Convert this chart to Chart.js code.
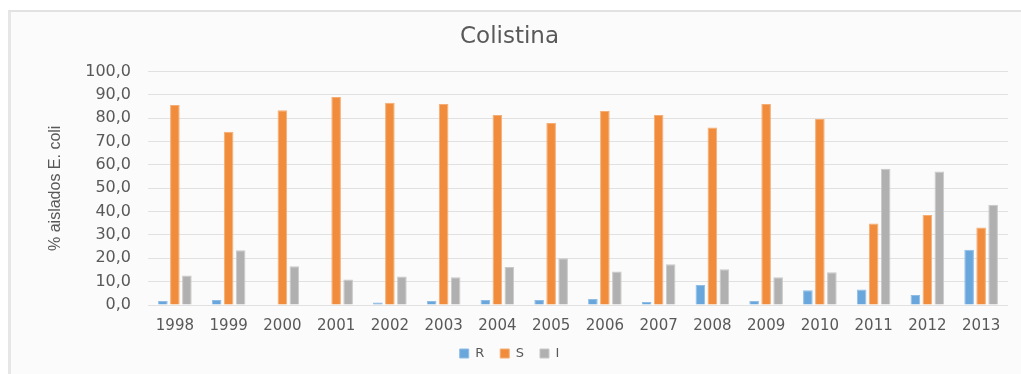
<!DOCTYPE html>
<html>
<head>
<meta charset="utf-8">
<title>Colistina</title>
<script src="https://cdn.jsdelivr.net/npm/chart.js@4.4.1/dist/chart.umd.min.js"></script>
<style>
  html, body {
    margin: 0;
    padding: 0;
    background: #ffffff;
  }
  .frame {
    position: absolute;
    left: 8px;
    top: 10px;
    width: 1010px;
    height: 362px;
    background: #fbfbfb;
    border-top: 2px solid #e2e2e2;
    border-left: 3px solid #e6e6e6;
  }
</style>
</head>
<body>
<div class="frame">
  <canvas id="chart"></canvas>
</div>
<script>
const years = ["1998", "1999", "2000", "2001", "2002", "2003", "2004", "2005",
  "2006", "2007", "2008", "2009", "2010", "2011", "2012", "2013"];

const valuesR = [1.7, 2.1, 0, 0, 1.1, 1.7, 2.1, 2.1, 2.6, 1.3, 8.6, 1.7, 6.3, 6.6, 4.3, 23.7];
const valuesS = [85.7, 74.2, 83.4, 89.1, 86.7, 86.1, 81.4, 78.0, 83.1, 81.4, 76.0, 86.1, 79.7, 34.9, 38.6, 33.2];
const valuesI = [12.6, 23.5, 16.6, 10.9, 12.2, 11.9, 16.3, 20.0, 14.3, 17.5, 15.3, 11.9, 14.0, 58.4, 57.2, 42.9];

const yTicks = [0, 10, 20, 30, 40, 50, 60, 70, 80, 90, 100];

const textColor = "#595959";
const gridColor = "#e1e1e1";

function series(label, data, color, edge) {
  return {
    label: label,
    data: data,
    backgroundColor: color,
    borderColor: edge,
    borderWidth: 1,
    categoryPercentage: 0.67,
    barPercentage: 0.8,
  };
}

const ctx = document.getElementById("chart").getContext("2d");

new Chart(ctx, {
  type: "bar",
  data: {
    labels: years,
    datasets: [
      series("R", valuesR, "#68a6dc", "#8fbde6"),
      series("S", valuesS, "#f08c3b", "#f4ad74"),
      series("I", valuesI, "#b0b0b0", "#c8c8c8"),
    ],
  },
  options: {
    responsive: true,
    maintainAspectRatio: false,
    animation: false,
    layout: {
      padding: { left: 0, right: 13, top: 0, bottom: 4 },
    },
    plugins: {
      title: {
        display: true,
        text: "Colistina",
        color: textColor,
        font: { family: "'DejaVu Sans', sans-serif", size: 23, weight: "normal" },
        padding: { top: 11, bottom: 21 },
      },
      legend: {
        position: "bottom",
        labels: {
          color: textColor,
          font: { family: "'DejaVu Sans', sans-serif", size: 13 },
          boxWidth: 9,
          boxHeight: 9,
          padding: 16,
        },
      },
      tooltip: { enabled: false },
    },
    scales: {
      x: {
        afterFit: (scale) => {
          scale.height = 26;
        },
        grid: { display: false, drawTicks: false },
        border: { display: false },
        ticks: {
          color: textColor,
          font: { family: "'DejaVu Sans', sans-serif", size: 15 },
          padding: 12,
          maxRotation: 0,
          autoSkip: false,
        },
      },
      y: {
        min: 0,
        max: 100,
        afterFit: (scale) => {
          scale.width = 137;
        },
        afterBuildTicks: (scale) => {
          scale.ticks = yTicks.map((v) => ({ value: v }));
        },
        grid: { color: gridColor, lineWidth: 1, drawTicks: false },
        border: { display: false },
        ticks: {
          color: textColor,
          font: { family: "'DejaVu Sans', sans-serif", size: 16 },
          padding: 17,
          autoSkip: false,
          callback: (v) => v.toFixed(1).replace(".", ","),
        },
        title: {
          display: true,
          text: "% aislados E. coli",
          color: textColor,
          font: { family: "'Liberation Sans Narrow', 'Liberation Sans', sans-serif", size: 16 },
          padding: { top: 35, bottom: 0 },
        },
      },
    },
  },
});
</script>
</body>
</html>
